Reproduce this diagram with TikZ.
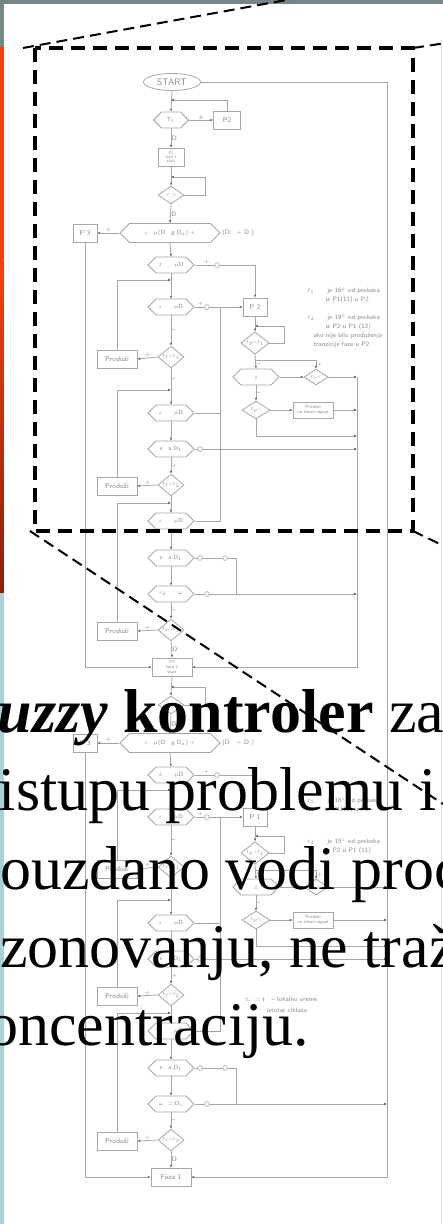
\documentclass[tikz,border=0pt]{standalone}
\usepackage{fontspec}
\newfontfamily\timesf{Liberation Serif}
\usetikzlibrary{shapes.geometric,shapes.symbols,arrows.meta}
\definecolor{fl}{HTML}{A6A6A6}
\definecolor{flt}{HTML}{888888}
\definecolor{flarr}{HTML}{666666}
\definecolor{topgray}{HTML}{768586}
\definecolor{slideorange}{HTML}{F4420E}
\definecolor{slidered}{HTML}{8A1F08}
\definecolor{slideblue}{HTML}{A8D2D7}

\tikzset{
  fline/.style={draw=fl, line width=0.8pt},
  farr/.style={draw=fl, line width=0.8pt, -{Latex[length=2.8pt,width=2.6pt,color=flarr]}},
  ft/.style={font=\sffamily\fontsize{6.5}{7}\selectfont, text=flt, inner sep=0.4pt, align=center},
  hexa/.style={signal, signal to=east and west, draw=fl, line width=0.8pt, minimum height=16pt, minimum width=46pt, inner sep=0pt, font=\sffamily\fontsize{6}{6.5}\selectfont, text=flt},
  dia/.style={diamond, draw=fl, line width=0.8pt, minimum width=26pt, minimum height=18pt, inner sep=0pt, font=\sffamily\fontsize{4.5}{5}\selectfont, text=flt},
  fbox/.style={rectangle, draw=fl, line width=0.8pt, minimum height=18pt, minimum width=24pt, inner sep=0pt, font=\sffamily\fontsize{7}{7.5}\selectfont, text=flt, align=center},
  fcirc/.style={draw=fl, line width=0.6pt, fill=white},
  zoomrect/.style={draw=black, line width=3.4pt, dash pattern=on 14pt off 8pt},
  callout/.style={draw=black, line width=2pt, dash pattern=on 11pt off 6pt},
  bigtext/.style={anchor=base west, inner sep=0pt, font=\timesf\fontsize{62}{62}\selectfont, text=black},
}

% #1 suffix, #2 shift, #3 collector x, #4 last hexagon label, #5 entry node, #6 exit node, #7 right box label, #8 left box label
\newcommand\flphase[8]{%
\begin{scope}[yshift=-#2pt]
 \node[dia] (d0#1) at (171,195) {$<$\,$>$};
 \node[hexa, minimum width=100pt, minimum height=19pt] (bh#1) at (170,233) {$\iota$\quad $\mu$(D\quad g D$_a$) +};
 \node[ft, anchor=west] (bt#1) at (bh#1.east) {\,(D\quad + D )};
 \node[fbox] (px#1) at (85,233) {#8};
 \node[hexa] (h2#1) at (171,265) {$\dot z$\qquad $\mu$D};
 \node[hexa] (h3#1) at (171,307) {$\iota$\qquad $\mu$D};
 \node[fbox] (pp#1) at (255,307) {#7};
 \node[dia] (da#1) at (171,357) {$t_r$<$t_1$};
 \node[fbox, minimum width=40pt] (pa#1) at (117,359) {Produži};
 \node[hexa] (h4#1) at (171,413) {$\iota$\qquad $\mu$D};
 \node[hexa] (h5#1) at (171,449) {s\quad a D$_1$};
 \node[dia] (db#1) at (171,485) {$t_r$<$t_2$};
 \node[fbox, minimum width=40pt] (pb#1) at (117,486) {Produži};
 \node[hexa] (h6#1) at (171,521) {$\iota$\qquad $\mu$D};
 \node[hexa] (h7#1) at (171,558) {s\quad a D$_1$};
 \node[hexa] (h8#1) at (171,594) {#4};
 \node[dia] (dc#1) at (171,630) {$t_r$<$t_3$};
 \node[fbox, minimum width=40pt] (pc#1) at (117,631) {Produži};
 \node[dia, minimum width=28pt] (dp#1) at (255,343) {$t_p$<$t_1$};
 \node[hexa] (hp#1) at (256,377) {$\dot z$};
 \node[dia, minimum width=24pt, minimum height=16pt] (dq#1) at (316,377) {$t_r$<};
 \node[dia, minimum width=28pt] (dr#1) at (256,410) {$t_p$<};
 \node[fbox, minimum width=40pt, minimum height=16pt, font=\sffamily\fontsize{4.5}{5}\selectfont] (pt#1) at (313,410) {Produži\\na tekući signal};
 \draw[farr] (#5.south) -- (d0#1.north);
 \draw[farr] (d0#1.east) -- (205,195) -- (205,177) -- (171,177);
 \draw[farr] (d0#1.south) -- node[ft,right]{D} (bh#1.north);
 \draw[farr] (bh#1.west) -- node[ft,above]{+} (px#1.east);
 \draw[farr] (px#1.south) |- (#6.west);
 \draw[farr] (bh#1.south) -- (h2#1.north);
 \draw[farr] (h2#1.east) -| node[ft,above,pos=0.1]{+} (pp#1.north);
 \draw[farr] (h2#1.south) -- (h3#1.north);
 \draw[farr] (pa#1.north) |- (171,280);
 \draw[farr] (h3#1.east) -- node[ft,above,pos=0.12]{+} (pp#1.west);
 \draw[farr] (h3#1.south) -- node[ft,right]{--} (da#1.north);
 \draw[farr] (da#1.west) -- node[ft,above]{+} (pa#1.east);
 \draw[farr] (da#1.south) -- node[ft,right,pos=0.3]{--} (h4#1.north);
 \draw[farr] (pb#1.north) |- (171,390);
 \draw[fline] (h4#1.east) -- (220,413);
 \draw[farr] (h4#1.south) -- (h5#1.north);
 \draw[farr] (h5#1.east) -- (#3,449);
 \draw[farr] (h5#1.south) -- node[ft,right]{+} (db#1.north);
 \draw[farr] (db#1.west) -- node[ft,above]{+} (pb#1.east);
 \draw[farr] (db#1.south) -- (h6#1.north);
 \draw[farr] (pc#1.north) |- (171,503);
 \draw[fline] (h6#1.east) -| (220,307);
 \draw[farr] (h6#1.south) -- (h7#1.north);
 \draw[fline] (h7#1.east) -| (236,594);
 \draw[farr] (h7#1.south) -- (h8#1.north);
 \draw[farr] (h8#1.east) -- (#3,594);
 \draw[farr] (h8#1.south) -- node[ft,right]{--} (dc#1.north);
 \draw[farr] (dc#1.west) -- node[ft,above]{+} (pc#1.east);
 \draw[farr] (dc#1.south) -- node[ft,right]{D} (#6.north);
 \draw[farr] (pp#1.south) -- (dp#1.north);
 \draw[farr] (dp#1.east) -- (284,343) -- (284,326) -- (255,326);
 \draw[farr] (dp#1.south) -- node[ft,right,pos=0.7]{--} (hp#1.north);
 \draw[farr] (255,360) -| node[ft,right,pos=0.8]{+} (dq#1.north);
 \draw[farr] (hp#1.east) -- (dq#1.west);
 \draw[farr] (dq#1.east) -- (#3,377);
 \draw[farr] (hp#1.south) -- node[ft,right]{--} (dr#1.north);
 \draw[farr] (dr#1.east) -- (pt#1.west);
 \draw[farr] (pt#1.east) -- (#3,410);
 \draw[farr] (dr#1.south) |- (#3,436);
 \foreach \cx/\cy in {217/265, 207/307, 200/449, 200/558, 225/558, 207/594}
   \draw[fcirc] (\cx,\cy) circle (2.4pt);
\end{scope}}

\begin{document}
\begin{tikzpicture}[x=1pt,y=-1pt]
\useasboundingbox (0,0) rectangle (443,1224);
\clip (0,0) rectangle (443,1224);
% slide background
\fill[white] (0,0) rectangle (443,1224);
\fill[topgray] (0,0) rectangle (443,3.5);
\fill[topgray] (0,0) rectangle (3.5,47);
\fill[slideorange] (0,47) rectangle (3.5,260);
\shade[top color=slideorange, bottom color=slidered] (0,260) rectangle (3.5,593);
\fill[slideblue] (0,593) rectangle (4,1224);
\draw[black!12, line width=0.8pt] (441.5,40) -- (441.5,1224);

% flowchart top
\node[ellipse, draw=fl, line width=0.8pt, minimum width=57pt, minimum height=17pt, inner sep=0pt, font=\sffamily\fontsize{9.5}{10}\selectfont, text=flt] (start) at (172,82) {START};
\node[hexa, minimum width=35pt] (t1) at (171,120) {T$_1$};
\node[fbox, minimum width=27pt] (p2t) at (227,120) {P2};
\node[fbox, minimum width=26pt, font=\sffamily\fontsize{4}{4.3}\selectfont] (p1) at (171,157) {P1\\faza 1\\start};
\node[fbox, minimum width=40pt, font=\sffamily\fontsize{4.5}{4.8}\selectfont] (f2) at (172,667) {P2\\faza 2\\start};
\node[fbox, minimum width=40pt] (f1) at (171,1177) {Faza 1};
\draw[farr] (start.south) -- (t1.north);
\draw[farr] (p2t.north) |- (171,100);
\draw[farr] (t1.east) -- node[ft,above]{n} (p2t.west);
\draw[farr] (t1.south) -- node[ft,right]{D} (p1.north);

\flphase{a}{0}{357}{$\iota_2$\qquad $\omega$}{p1}{f2}{P 2}{P 3}
\flphase{b}{510}{387}{$\omega$\ \ = D$_c$}{f2}{f1}{P 1}{P 3}

\draw[farr] (357,377) |- (f2.east);
\draw[farr] (start.east) -- (387,82) |- (f1.east);

% annotations
\node[ft, anchor=west] (a1) at (307,291) {$t_1$\qquad je 16$^{\circ}$ od prebaka};
\node[ft, anchor=west] (a2) at (325,300) {iz P1(11) u P2};
\node[ft, anchor=west] (a3) at (307,318) {$t_2$\qquad je 19$^{\circ}$ od prebaka};
\node[ft, anchor=west] (a4) at (325,327) {iz P2 u P1 (12)};
\node[ft, anchor=west] (a5) at (313,336) {ako nije bilo produženja};
\node[ft, anchor=west] (a6) at (313,345) {tranzicije faze u P2};
\node[ft, anchor=west] (b1) at (307,801) {$t_1$\qquad je 18$^{\circ}$ od prebaka};
\node[ft, anchor=west] (b2) at (325,810) {iz P1(12) u P2};
\node[ft, anchor=west] (b3) at (307,842) {$t_2$\qquad je 15$^{\circ}$ od prebaka};
\node[ft, anchor=west] (b4) at (325,851) {iz P2 u P1 (11)};
\node[ft, anchor=west] (c1) at (245,1000) {$t_r$ = t\quad -- lokalno vreme};
\node[ft, anchor=west] (c2) at (266,1010) {unutar ciklusa};

% slide text
\node[bigtext] (l1) at (-44,732) {\bfseries\itshape Fuzzy \upshape kontroler \mdseries za};
\node[bigtext] (l2) at (-53,810) {pristupu problemu i};
\node[bigtext] (l3) at (-31,889) {pouzdano vodi proces};
\node[bigtext] (l4) at (-48,967) {rezonovanju, ne traži};
\node[bigtext] (l5) at (-44,1045) {koncentraciju.};

% zoom frame and callout lines
\coordinate (ztl) at (35,48);
\coordinate (zbr) at (413,531);
\draw[zoomrect] (ztl) rectangle (zbr);
\coordinate (c1a) at (23,48);  \coordinate (c1b) at (300,-2.5);
\coordinate (c2a) at (413,48); \coordinate (c2b) at (446,43);
\coordinate (c3a) at (30,531); \coordinate (c3b) at (446,806);
\coordinate (c4a) at (413,531); \coordinate (c4b) at (446,547);
\draw[callout] (c1a) -- (c1b);
\draw[callout] (c2a) -- (c2b);
\draw[callout] (c3a) -- (c3b);
\draw[callout] (c4a) -- (c4b);
\end{tikzpicture}
\end{document}
